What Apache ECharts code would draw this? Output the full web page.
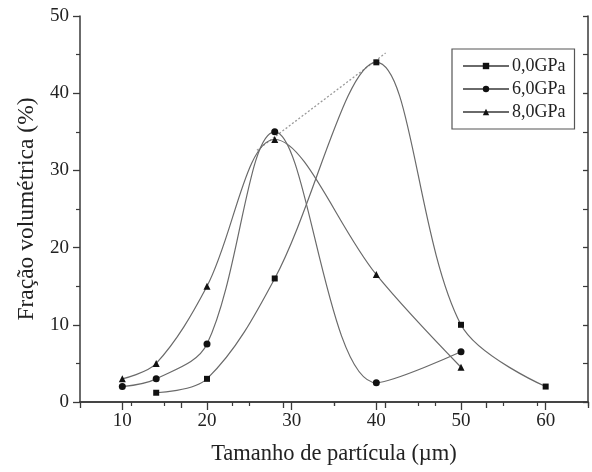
<!DOCTYPE html>
<html><head><meta charset="utf-8">
<script src="https://cdn.jsdelivr.net/npm/echarts@6/dist/echarts.min.js"></script>
<style>html,body{margin:0;padding:0;background:#fff}#c{width:592px;height:472px}</style>
</head><body><div id="c"></div>
<script>
const seriesNames = ['0,0GPa', '6,0GPa', '8,0GPa'];
const gpa0 = [[14, 1.2], [20, 3], [28, 16], [40, 44], [50, 10], [60, 2]];
const gpa6 = [[10, 2], [14, 3], [20, 7.5], [28, 35], [40, 2.5], [50, 6.5]];
const gpa8 = [[10, 3], [14, 5], [20, 15], [28, 34], [40, 16.5], [50, 4.5]];
const dottedGuide = [[25.9, 32.6], [41.1, 45.2]];
const xTicks = [10, 20, 30, 40, 50, 60];
const xMinorTicks = [15, 25, 35, 45, 55, 65];
const yTicks = [0, 10, 20, 30, 40, 50];

const font = '"Liberation Serif", "Times New Roman", serif';
const axisCol = '#3a3a3a';
const lineCol = '#6a6a6a';

const chart = echarts.init(document.getElementById('c'), null, {renderer: 'canvas'});
function mk(name, data, symbol, size) {
  return {
    name: name, type: 'line', data: data, xAxisIndex: 0, yAxisIndex: 0,
    smooth: 0.35, symbol: symbol, symbolSize: size,
    lineStyle: {color: lineCol, width: 1.2},
    itemStyle: {color: '#111'},
    z: 3
  };
}
chart.setOption({
  animation: false,
  backgroundColor: '#fff',
  grid: {left: 80, right: 4, top: 16, bottom: 70},
  legend: {
    data: seriesNames,
    orient: 'vertical',
    left: 452, top: 49,
    padding: [8, 9, 8, 10],
    itemWidth: 46, itemHeight: 8, itemGap: 5,
    borderColor: '#555', borderWidth: 1.2,
    textStyle: {fontFamily: font, fontSize: 18, color: '#222', lineHeight: 18, padding: [0, 0, 0, -2]}
  },
  xAxis: [{
    type: 'value', min: 5, max: 65, interval: 5, position: 'bottom',
    axisLine: {lineStyle: {color: axisCol, width: 1.5}},
    axisTick: {inside: false, length: 8, customValues: xTicks, lineStyle: {color: axisCol, width: 1.3}},
    splitLine: {show: false},
    axisLabel: {
      fontFamily: font, fontSize: 19, color: '#222', margin: 10,
      customValues: xTicks,
      formatter: v => String(v)
    },
    name: 'Tamanho de partícula (µm)', nameLocation: 'middle', nameGap: 41,
    nameTextStyle: {fontFamily: font, fontSize: 22.5, color: '#222'}
  }, {
    type: 'value', min: 0, max: 10, interval: 2, position: 'top',
    axisLine: {show: true, lineStyle: {color: axisCol, width: 1.5}},
    axisTick: {inside: true, length: 6, lineStyle: {color: axisCol, width: 1.3}},
    minorTick: {show: true, splitNumber: 2, length: 4, lineStyle: {color: axisCol, width: 1.2}},
    axisLabel: {show: false}, splitLine: {show: false}
  }, {
    type: 'value', min: 5, max: 65, interval: 5, position: 'bottom', offset: 0,
    axisLine: {show: false},
    axisTick: {inside: false, length: 4, customValues: xMinorTicks, lineStyle: {color: axisCol, width: 1.2}},
    axisLabel: {show: false}, splitLine: {show: false}
  }],
  yAxis: [{
    type: 'value', min: 0, max: 50, interval: 10, position: 'left',
    axisLine: {show: true, lineStyle: {color: axisCol, width: 1.5}},
    axisTick: {inside: false, length: 7, lineStyle: {color: axisCol, width: 1.3}},
    minorTick: {show: true, splitNumber: 2, length: 4, lineStyle: {color: axisCol, width: 1.2}},
    splitLine: {show: false},
    axisLabel: {
      fontFamily: font, fontSize: 19, color: '#222', margin: 11,
      formatter: v => yTicks.includes(v) ? String(v) : ''
    },
    name: 'Fração volumétrica (%)', nameLocation: 'middle', nameGap: 36,
    nameTextStyle: {fontFamily: font, fontSize: 23.5, color: '#222'}
  }, {
    type: 'value', min: 0, max: 50, interval: 10, position: 'right',
    axisLine: {show: true, lineStyle: {color: axisCol, width: 1.5}},
    axisTick: {inside: true, length: 5, lineStyle: {color: axisCol, width: 1.3}},
    minorTick: {show: true, splitNumber: 2, length: 5, lineStyle: {color: axisCol, width: 1.2}},
    axisLabel: {show: false}, splitLine: {show: false}
  }],
  series: [
    mk(seriesNames[0], gpa0, 'rect', 6),
    mk(seriesNames[1], gpa6, 'circle', 7),
    mk(seriesNames[2], gpa8, 'triangle', 7),
    {
      name: 'guide', type: 'line', data: dottedGuide, xAxisIndex: 0, yAxisIndex: 0,
      symbol: 'none', lineStyle: {color: '#999', width: 1.3, type: [2, 2]}, z: 2
    }
  ]
});
</script>
</body></html>
